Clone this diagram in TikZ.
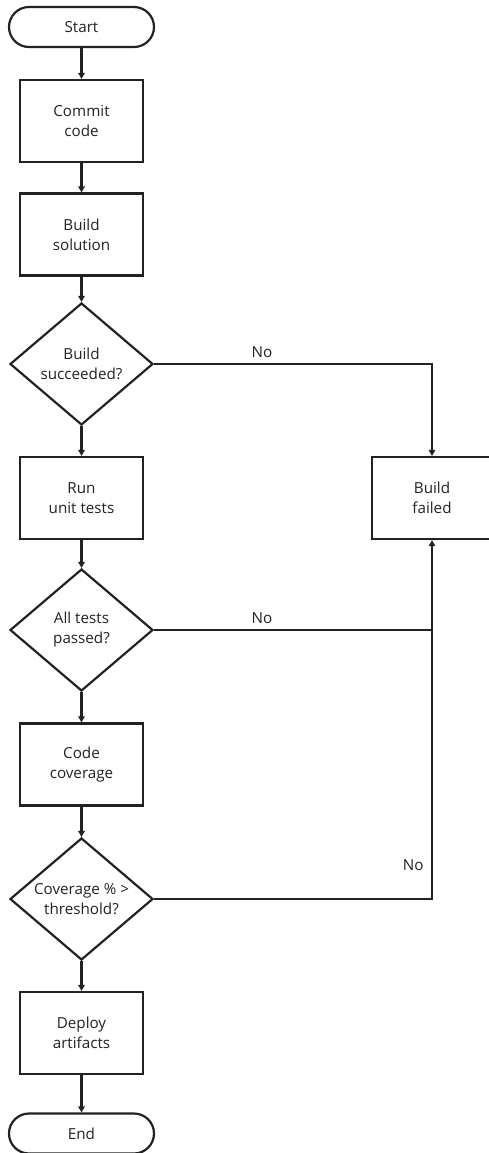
\documentclass[tikz,border=0pt]{standalone}
\usepackage{fontspec}
\setmainfont{Open Sans}
\usetikzlibrary{shapes.geometric,arrows.meta}
\definecolor{ink}{HTML}{222222}
\begin{document}
\begin{tikzpicture}[x=1pt,y=-1pt,
  every node/.style={font=\fontsize{15.2}{20}\selectfont, align=center, text=ink},
  proc/.style={draw=ink, line width=2.2pt, minimum width=123pt, minimum height=82pt, inner sep=0pt},
  term/.style={draw=ink, line width=2.2pt, rounded corners=20pt, minimum width=145pt, minimum height=40pt, inner sep=0pt},
  dec/.style={draw=ink, diamond, line width=2.2pt, minimum width=143pt, minimum height=122pt, inner sep=0pt},
  conn/.style={draw=ink, line width=2.2pt, -{Triangle[length=6pt,width=6.5pt]}},
  plain/.style={draw=ink, line width=2.2pt},
  ]
\useasboundingbox (0,0) rectangle (488,1153);
\node[term] (start) at (81.5,27) {Start};
\node[proc] (commit) at (81.5,121) {Commit\\code};
\node[proc] (build) at (81.5,234.5) {Build\\solution};
\node[dec, label={center:Build\\succeeded?}] (d1) at (81.5,364) {};
\node[proc] (run) at (81.5,498) {Run\\unit tests};
\node[proc, minimum width=120pt] (fail) at (432,498) {Build\\failed};
\node[dec, label={center:All tests\\passed?}] (d2) at (81.5,630) {};
\node[proc] (cov) at (81.5,764.5) {Code\\coverage};
\node[dec, label={center:Coverage \% >\\threshold?}] (d3) at (81.5,899) {};
\node[proc] (deploy) at (81.5,1033) {Deploy\\artifacts};
\node[term] (end) at (81.5,1133.5) {End};

\draw[conn] (start) -- (commit);
\draw[conn] (commit) -- (build);
\draw[conn] (build) -- (d1);
\draw[conn] (d1) -- (run);
\draw[conn] (run) -- (d2);
\draw[conn] (d2) -- (cov);
\draw[conn] (cov) -- (d3);
\draw[conn] (d3) -- (deploy);
\draw[conn] (deploy) -- (end);

\draw[conn] (d1.east) -- (d1.east -| fail) -- (fail.north);
\draw[plain] (d2.east) -- (d2.east -| fail);
\draw[conn] (d3.east) -- (d3.east -| fail) -- (fail.south);

\node (no1) at (262,352) {No};
\node (no2) at (262,618) {No};
\node[anchor=east] (no3) at (427,865) {No};
\end{tikzpicture}
\end{document}
